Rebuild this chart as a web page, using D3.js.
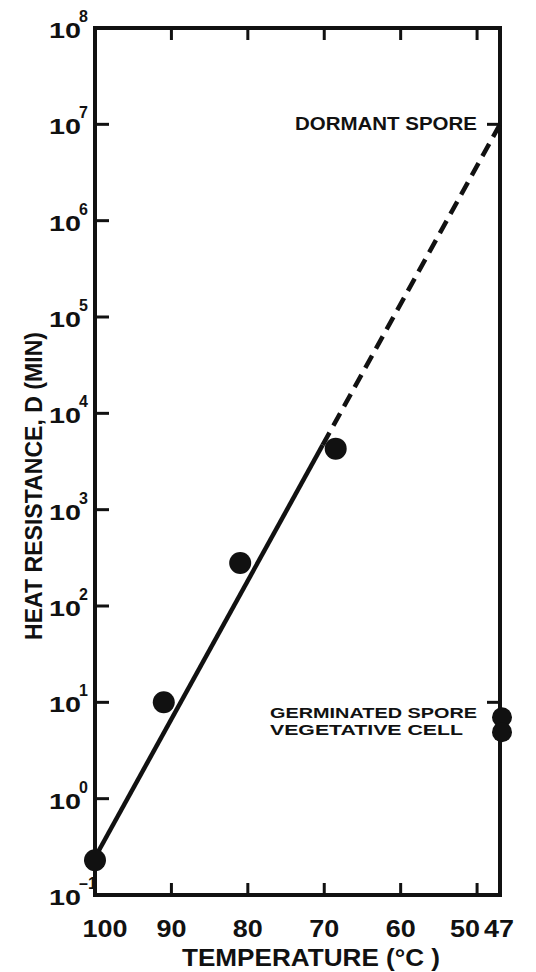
<!DOCTYPE html>
<html>
<head>
<meta charset="utf-8">
<script src="https://cdn.jsdelivr.net/npm/d3@7"></script>
<style>
  body { margin: 0; background: #fff; }
  text { font-family: "Liberation Sans", Arial, sans-serif; font-weight: bold; fill: #111; }
</style>
</head>
<body>
<div id="chart"></div>
<script>
// Data
const temperatures = [100, 91, 81, 68.5];
const resistance = [0.23, 10, 280, 4300];
const sideLabels = ['GERMINATED SPORE', 'VEGETATIVE CELL'];
const sideValues = [7, 4.9];
const sideTemp = 47;
const fitSolid = [[100, 0.245], [70.2, 4700]];
const fitDashed = [[70.2, 4700], [47, 1e7]];
const xTicks = [100, 90, 80, 70, 60, 50, 47];
const yExponents = [-1, 0, 1, 2, 3, 4, 5, 6, 7, 8];

const W = 536, H = 972;
const svg = d3.select('#chart')
    .append('svg')
    .attr('width', W)
    .attr('height', H);

// Scales
const x = d3.scaleLinear().domain([100, 47]).range([95, 500]);
const y = d3.scaleLog().domain([0.1, 1e8]).range([895, 28]);

const ink = '#111';

// Frame
svg.append('rect')
    .attr('x', x(100))
    .attr('y', y(1e8))
    .attr('width', x(47) - x(100))
    .attr('height', y(0.1) - y(1e8))
    .attr('fill', 'none')
    .attr('stroke', ink)
    .attr('stroke-width', 4);

// Left ticks (inward)
svg.selectAll('.ytick')
    .data(yExponents.slice(1, -1))
    .enter()
    .append('line')
    .attr('x1', x(100))
    .attr('x2', x(100) + 14)
    .attr('y1', d => y(Math.pow(10, d)))
    .attr('y2', d => y(Math.pow(10, d)))
    .attr('stroke', ink)
    .attr('stroke-width', 3);

// Y tick labels: 10 with a raised exponent
const yl = svg.selectAll('.ylabel')
    .data(yExponents)
    .enter()
    .append('g')
    .attr('transform', d => `translate(0, ${y(Math.pow(10, d))})`);

yl.append('text')
    .attr('x', 81)
    .attr('y', 10)
    .attr('text-anchor', 'end')
    .attr('textLength', 32)
    .attr('lengthAdjust', 'spacingAndGlyphs')
    .style('font-size', '22px')
    .text('10');

yl.append('text')
    .attr('x', 79)
    .attr('y', -6)
    .style('font-size', '16px')
    .text(d => d < 0 ? '\u2013' + Math.abs(d) : d);

// Bottom and top ticks
const inner = xTicks.slice(1, -1);
svg.selectAll('.xtick-b')
    .data(inner)
    .enter()
    .append('line')
    .attr('x1', d => x(d))
    .attr('x2', d => x(d))
    .attr('y1', y(0.1))
    .attr('y2', y(0.1) - 12)
    .attr('stroke', ink)
    .attr('stroke-width', 3);

svg.selectAll('.xtick-t')
    .data(inner)
    .enter()
    .append('line')
    .attr('x1', d => x(d))
    .attr('x2', d => x(d))
    .attr('y1', y(1e8))
    .attr('y2', y(1e8) + 12)
    .attr('stroke', ink)
    .attr('stroke-width', 3);

// X tick labels (100, 50 and 47 are nudged so they do not collide)
svg.selectAll('.xlabel')
    .data(xTicks)
    .enter()
    .append('text')
    .attr('x', d => x(d) + (d === 100 ? 10 : d === 50 ? 3 : d === 47 ? -16 : 0))
    .attr('y', 937)
    .attr('text-anchor', d => d === 50 ? 'end' : d === 47 ? 'start' : 'middle')
    .attr('textLength', d => String(d).length * 15)
    .attr('lengthAdjust', 'spacingAndGlyphs')
    .style('font-size', '24px')
    .text(d => d);

// Axis titles
svg.append('text')
    .attr('x', 311)
    .attr('y', 966)
    .attr('text-anchor', 'middle')
    .attr('textLength', 258)
    .attr('lengthAdjust', 'spacingAndGlyphs')
    .style('font-size', '23px')
    .text('TEMPERATURE (\u00B0C )');

svg.append('text')
    .attr('transform', 'translate(42, 486) rotate(-90)')
    .attr('text-anchor', 'middle')
    .attr('textLength', 308)
    .attr('lengthAdjust', 'spacingAndGlyphs')
    .style('font-size', '23px')
    .text('HEAT RESISTANCE, D (MIN)');

// Fitted line
const line = d3.line()
    .x(d => x(d[0]))
    .y(d => y(d[1]));

svg.append('path')
    .attr('d', line(fitSolid))
    .attr('fill', 'none')
    .attr('stroke', ink)
    .attr('stroke-width', 4.5);

svg.append('path')
    .attr('d', line(fitDashed))
    .attr('fill', 'none')
    .attr('stroke', ink)
    .attr('stroke-width', 4.5)
    .attr('stroke-dasharray', '14,8');

// Data points
svg.selectAll('.pt')
    .data(temperatures.map((t, i) => [t, resistance[i]]))
    .enter()
    .append('circle')
    .attr('cx', d => x(d[0]))
    .attr('cy', d => y(d[1]))
    .attr('r', 11)
    .attr('fill', ink);

svg.selectAll('.side')
    .data(sideValues)
    .enter()
    .append('circle')
    .attr('cx', x(sideTemp) + 2)
    .attr('cy', d => y(d))
    .attr('r', 10)
    .attr('fill', ink);

// Annotation markers on the right edge
[1e7, 10].forEach(v => {
    svg.append('line')
        .attr('x1', x(sideTemp) - 13)
        .attr('x2', x(sideTemp))
        .attr('y1', y(v))
        .attr('y2', y(v))
        .attr('stroke', ink)
        .attr('stroke-width', 3);
});

svg.append('text')
    .attr('x', 477)
    .attr('y', 130)
    .attr('text-anchor', 'end')
    .attr('textLength', 182)
    .attr('lengthAdjust', 'spacingAndGlyphs')
    .style('font-size', '18px')
    .text('DORMANT SPORE');

svg.selectAll('.sidelabel')
    .data(sideLabels)
    .enter()
    .append('text')
    .attr('x', 270)
    .attr('y', (d, i) => 718 + i * 17)
    .attr('textLength', (d, i) => i === 0 ? 207 : 193)
    .attr('lengthAdjust', 'spacingAndGlyphs')
    .style('font-size', '15px')
    .text(d => d);
</script>
</body>
</html>
